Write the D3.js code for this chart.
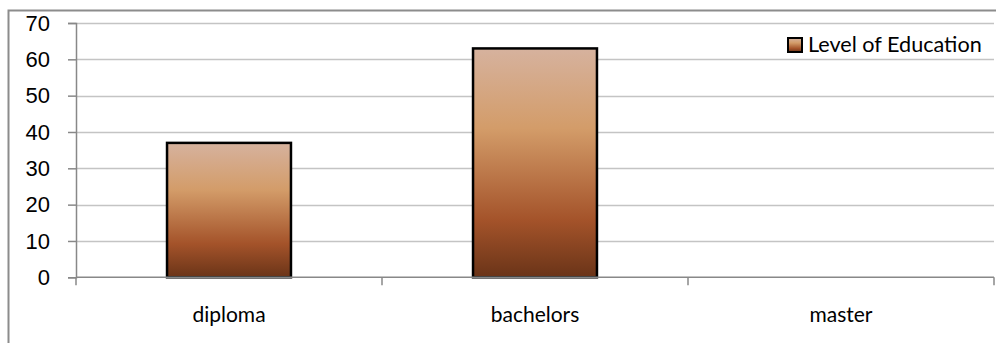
<!DOCTYPE html>
<html>
<head>
<meta charset="utf-8">
<script src="https://cdn.jsdelivr.net/npm/d3@7"></script>
<style>
  body { margin: 0; background: #fff; }
  svg { display: block; }
</style>
</head>
<body>
<svg width="996" height="343"></svg>
<script>
var categories = ["diploma", "bachelors", "master"];
var values = [37, 63, 0];
var yTicks = [0, 10, 20, 30, 40, 50, 60, 70];
var seriesName = "Level of Education";

var svg = d3.select("svg"),
    margin = {top: 23, right: 2, bottom: 66, left: 76},
    width = +svg.attr("width") - margin.left - margin.right,
    height = +svg.attr("height") - margin.top - margin.bottom;

// outer chart border (cropped on right and bottom)
svg.append("path")
    .attr("d", "M8.5,360V10.5H1000")
    .attr("fill", "none")
    .attr("stroke", "#8c8c8c")
    .attr("stroke-width", 2);

var defs = svg.append("defs");
var grad = defs.append("linearGradient")
    .attr("id", "barGrad")
    .attr("x1", 0).attr("y1", 0).attr("x2", 0).attr("y2", 1);
[["0%", "#d6b29e"], ["35%", "#d39c69"], ["75%", "#a4532a"], ["100%", "#6a3418"]]
  .forEach(function(s) { grad.append("stop").attr("offset", s[0]).attr("stop-color", s[1]); });

var g = svg.append("g").attr("transform", "translate(" + margin.left + "," + margin.top + ")");

var x = d3.scaleBand()
    .domain(categories)
    .range([0, width])
    .paddingInner(0.595)
    .paddingOuter(0.2975);

var xOuter = d3.scaleBand().domain(categories).range([0, width]);

var y = d3.scaleLinear()
    .domain([0, 70])
    .range([height + 0.3, 0]);

// gridlines
g.append("g")
  .selectAll("line")
  .data(yTicks.slice(1))
  .enter().append("line")
    .attr("x1", 0)
    .attr("x2", width)
    .attr("y1", function(d) { return Math.round(y(d)) + 0.5; })
    .attr("y2", function(d) { return Math.round(y(d)) + 0.5; })
    .attr("stroke", "#c4c4c4")
    .attr("stroke-width", 1.5);

// bars
g.append("g")
  .selectAll("rect")
  .data(categories.map(function(c, i) { return {name: c, value: values[i]}; }).filter(function(d) { return d.value > 0; }))
  .enter().append("rect")
    .attr("x", function(d) { return x(d.name); })
    .attr("y", function(d) { return y(d.value); })
    .attr("width", x.bandwidth())
    .attr("height", function(d) { return y(0) - y(d.value); })
    .attr("fill", "url(#barGrad)")
    .attr("stroke", "#000")
    .attr("stroke-width", 2.5);

// y axis
var yAxis = g.append("g")
    .call(d3.axisLeft(y).tickValues(yTicks).tickSize(8).tickPadding(18));
yAxis.select(".domain").attr("stroke", "#888").attr("stroke-width", 1.5);
yAxis.selectAll(".tick line").attr("stroke", "#888").attr("stroke-width", 1.5);
yAxis.selectAll("text")
    .style("font-family", "'Liberation Sans', Arial, sans-serif")
    .style("font-size", "22px")
    .attr("fill", "#000");

// x axis
var xAxisG = g.append("g").attr("transform", "translate(0," + y(0) + ")");
xAxisG.append("line")
    .attr("x1", 0).attr("x2", width)
    .attr("stroke", "#888").attr("stroke-width", 1.5);
xAxisG.selectAll(".xtick")
  .data(categories)
  .enter().append("line")
    .attr("x1", function(d) { return xOuter(d) + xOuter.bandwidth(); })
    .attr("x2", function(d) { return xOuter(d) + xOuter.bandwidth(); })
    .attr("y1", 0).attr("y2", 8)
    .attr("stroke", "#888").attr("stroke-width", 1.5);
xAxisG.append("line")
    .attr("x1", 0).attr("x2", 0).attr("y1", 0).attr("y2", 8)
    .attr("stroke", "#888").attr("stroke-width", 1.5);
xAxisG.selectAll(".xlabel")
  .data(categories)
  .enter().append("text")
    .attr("x", function(d) { return xOuter(d) + xOuter.bandwidth() / 2; })
    .attr("y", 45)
    .attr("text-anchor", "middle")
    .attr("font-family", "Lato, sans-serif")
    .attr("font-size", 21)
    .attr("fill", "#000")
    .text(function(d) { return d; });

// legend
var legend = svg.append("g").attr("transform", "translate(788,38)");
legend.append("rect")
    .attr("width", 14)
    .attr("height", 14)
    .attr("fill", "url(#barGrad)")
    .attr("stroke", "#000")
    .attr("stroke-width", 2);
legend.append("text")
    .attr("x", 20)
    .attr("y", 14)
    .attr("font-family", "Lato, sans-serif")
    .attr("font-size", 21.6)
    .attr("fill", "#000")
    .text(seriesName);
</script>
</body>
</html>
